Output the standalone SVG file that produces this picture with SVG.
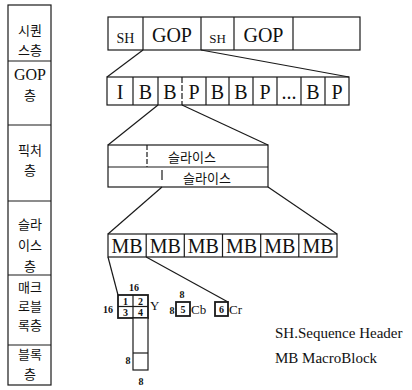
<svg xmlns="http://www.w3.org/2000/svg" width="412" height="390" viewBox="0 0 412 390">
<style>
.bx{fill:#fff;stroke:#1a1a1a;stroke-width:1.2}
.ln{stroke:#1a1a1a;stroke-width:1.2;fill:none}
.thk{fill:#fff;stroke:#1a1a1a;stroke-width:1.8}
.kr{font-family:"Noto Sans CJK KR","Noto Sans",sans-serif;font-size:13px;fill:#111;text-anchor:middle}
.krs{font-family:"Noto Sans CJK KR","Noto Sans",sans-serif;font-size:13px;fill:#111;text-anchor:middle}
.sf{font-family:"Liberation Serif","Times New Roman","DejaVu Serif",serif;fill:#111;text-anchor:middle}
.big{font-size:20px}
.sm{font-size:14px}
.tiny{font-size:10px;font-weight:bold}
.lab{font-family:"Liberation Serif","Times New Roman","DejaVu Serif",serif;font-size:13px;fill:#111}
.leg{font-family:"Liberation Serif","Times New Roman","DejaVu Serif",serif;font-size:15px;fill:#111}
</style>
<rect width="412" height="390" fill="#fff"/>

<g id="layers">
  <rect class="bx" x="8" y="5" width="43" height="380"/>
  <line class="ln" x1="8" y1="61" x2="51" y2="61"/>
  <line class="ln" x1="8" y1="125" x2="51" y2="125"/>
  <line class="ln" x1="8" y1="201" x2="51" y2="201"/>
  <line class="ln" x1="8" y1="275" x2="51" y2="275"/>
  <line class="ln" x1="8" y1="345" x2="51" y2="345"/>
  <g id="layer-sequence"><text class="kr" x="30" y="35">시퀀</text><text class="kr" x="30" y="55">스층</text></g>
  <g id="layer-gop"><text class="sf" x="30" y="80" font-size="16">GOP</text><text class="kr" x="30" y="100">층</text></g>
  <g id="layer-picture"><text class="kr" x="30" y="155">픽처</text><text class="kr" x="30" y="175">층</text></g>
  <g id="layer-slice"><text class="kr" x="30" y="229">슬라</text><text class="kr" x="30" y="250">이스</text><text class="kr" x="30" y="271">층</text></g>
  <g id="layer-macroblock"><text class="kr" x="30" y="292">매크</text><text class="kr" x="30" y="311">로블</text><text class="kr" x="30" y="330">록층</text></g>
  <g id="layer-block"><text class="kr" x="30" y="359">블록</text><text class="kr" x="30" y="379">층</text></g>
</g>

<g id="sequence-row">
  <rect class="bx" x="108" y="17" width="252" height="33"/>
  <line class="ln" x1="143" y1="17" x2="143" y2="50"/>
  <line class="ln" x1="201" y1="17" x2="201" y2="50"/>
  <line class="ln" x1="234" y1="17" x2="234" y2="50"/>
  <line class="ln" x1="293" y1="17" x2="293" y2="50"/>
  <text class="sf sm" x="125.5" y="43">SH</text>
  <text class="sf big" x="172" y="42">GOP</text>
  <text class="sf" font-size="13" x="217.5" y="43">SH</text>
  <text class="sf big" x="263.5" y="42">GOP</text>
</g>

<g id="gop-row">
  <rect class="bx" x="107" y="77" width="242" height="28"/>
  <line class="ln" x1="133" y1="77" x2="133" y2="105"/>
  <line class="ln" x1="158" y1="77" x2="158" y2="105"/>
  <line class="ln" x1="182" y1="77" x2="182" y2="105" stroke-dasharray="6 2"/>
  <line class="ln" x1="206" y1="77" x2="206" y2="105"/>
  <line class="ln" x1="229" y1="77" x2="229" y2="105"/>
  <line class="ln" x1="253" y1="77" x2="253" y2="105"/>
  <line class="ln" x1="277" y1="77" x2="277" y2="105"/>
  <line class="ln" x1="301" y1="77" x2="301" y2="105"/>
  <line class="ln" x1="325" y1="77" x2="325" y2="105"/>
  <text class="sf big" x="120" y="99">I</text>
  <text class="sf big" x="145.5" y="99">B</text>
  <text class="sf big" x="170" y="99">B</text>
  <text class="sf big" x="194" y="99">P</text>
  <text class="sf big" x="217.5" y="99">B</text>
  <text class="sf big" x="241" y="99">B</text>
  <text class="sf big" x="265" y="99">P</text>
  <text class="sf big" x="289" y="99">...</text>
  <text class="sf big" x="313" y="99">B</text>
  <text class="sf big" x="337" y="99">P</text>
</g>

<g id="picture">
  <rect class="bx" x="108" y="145" width="160" height="42"/>
  <line class="ln" x1="108" y1="167" x2="268" y2="167"/>
  <line class="ln" x1="147" y1="145" x2="147" y2="167" stroke-dasharray="5 2"/>
  <line class="ln" x1="162" y1="170" x2="162" y2="180"/>
  <text class="krs" x="192" y="162">슬라이스</text>
  <text class="krs" x="207" y="183">슬라이스</text>
</g>

<g id="mb-row">
  <rect class="bx" x="108" y="234" width="229" height="23"/>
  <line class="ln" x1="146.2" y1="234" x2="146.2" y2="257"/>
  <line class="ln" x1="184.3" y1="234" x2="184.3" y2="257"/>
  <line class="ln" x1="222.5" y1="234" x2="222.5" y2="257"/>
  <line class="ln" x1="260.7" y1="234" x2="260.7" y2="257"/>
  <line class="ln" x1="298.8" y1="234" x2="298.8" y2="257"/>
  <text class="sf big" x="127" y="253">MB</text>
  <text class="sf big" x="165.2" y="253">MB</text>
  <text class="sf big" x="203.4" y="253">MB</text>
  <text class="sf big" x="241.6" y="253">MB</text>
  <text class="sf big" x="279.8" y="253">MB</text>
  <text class="sf big" x="318" y="253">MB</text>
</g>

<g id="block-y">
  <rect class="thk" x="118" y="295" width="30" height="23"/>
  <line class="ln" x1="133" y1="295" x2="133" y2="318" stroke-width="1.8"/>
  <line class="ln" x1="118" y1="306.5" x2="148" y2="306.5" stroke-width="1.8"/>
  <rect class="bx" x="133" y="318" width="15" height="52"/>
  <line class="ln" x1="133" y1="353" x2="148" y2="353" stroke-width="1.8"/>
  <text class="sf tiny" x="125.5" y="305">1</text>
  <text class="sf tiny" x="140.5" y="305">2</text>
  <text class="sf tiny" x="125.5" y="316">3</text>
  <text class="sf tiny" x="140.5" y="316">4</text>
  <text class="sf tiny" x="134" y="291">16</text>
  <text class="sf tiny" x="108" y="313">16</text>
  <text class="lab" x="150" y="310">Y</text>
  <text class="sf tiny" x="128" y="364">8</text>
  <text class="sf tiny" x="141" y="385">8</text>
</g>

<g id="block-cb">
  <rect class="thk" x="176" y="302" width="14" height="14"/>
  <text class="sf tiny" x="183" y="313">5</text>
  <text class="sf tiny" x="182" y="298">8</text>
  <text class="sf tiny" x="172" y="314">8</text>
  <text class="lab" x="191" y="314">Cb</text>
</g>

<g id="block-cr">
  <rect class="thk" x="215" y="302" width="13" height="14"/>
  <text class="sf tiny" x="221.5" y="313">6</text>
  <text class="lab" x="229" y="314">Cr</text>
</g>

<g id="legend">
  <text class="leg" x="275" y="338">SH.Sequence Header</text>
  <text class="leg" x="275" y="363">MB MacroBlock</text>
</g>

<g id="connectors">
  <line class="ln" x1="143" y1="50" x2="107" y2="77"/>
  <line class="ln" x1="201" y1="50" x2="349" y2="77"/>
  <line class="ln" x1="158" y1="105" x2="108" y2="145"/>
  <line class="ln" x1="182" y1="105" x2="268" y2="145"/>
  <line class="ln" x1="162" y1="187" x2="108" y2="234"/>
  <line class="ln" x1="268" y1="187" x2="337" y2="234"/>
  <line class="ln" x1="108" y1="257" x2="118" y2="295"/>
  <line class="ln" x1="146.2" y1="257" x2="228" y2="302"/>
</g>
</svg>
